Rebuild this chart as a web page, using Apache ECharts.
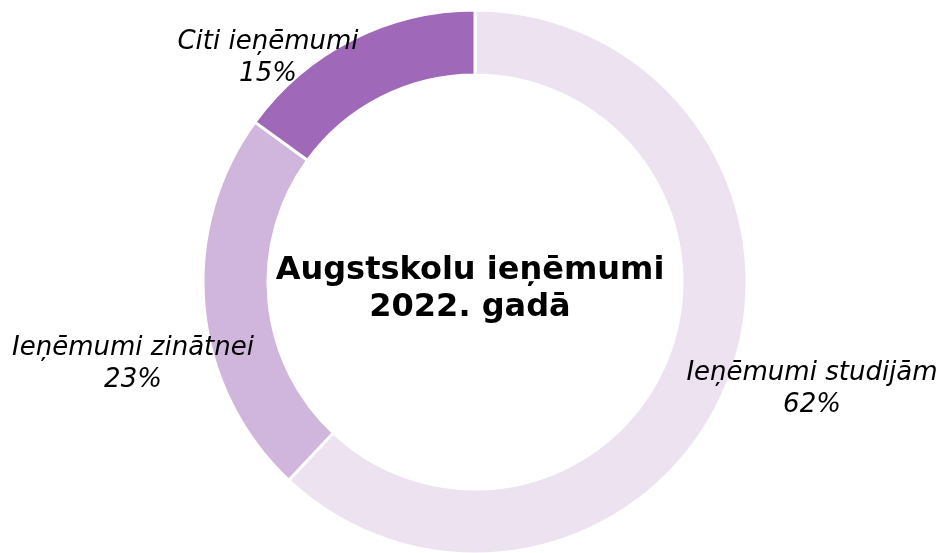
<!DOCTYPE html>
<html>
<head>
<meta charset="utf-8">
<script src="https://cdn.jsdelivr.net/npm/echarts@6/dist/echarts.min.js"></script>
<style>
  html, body { margin: 0; padding: 0; background: #fff; }
  #main { width: 945px; height: 553px; }
</style>
</head>
<body>
<div id="main"></div>
<script>
const categories = ['Ieņēmumi studijām', 'Ieņēmumi zinātnei', 'Citi ieņēmumi'];
const shares = [62, 23, 15];
const colors = ['#ECE2F0', '#D0B5DC', '#A068B8'];
// label anchor points (centre of the two-line label)
const labelPos = [[812, 389], [133, 364], [268, 58]];

const chart = echarts.init(document.getElementById('main'));
const option = {
  backgroundColor: '#ffffff',
  title: {
    text: 'Augstskolu ieņēmumi\n2022. gadā',
    left: 465,
    top: 247,
    textAlign: 'center',
    textStyle: {
      fontFamily: 'DejaVu Sans',
      fontWeight: 'bold',
      fontSize: 32,
      lineHeight: 37,
      color: '#000'
    }
  },
  series: [{
    type: 'pie',
    center: [475, 282],
    radius: [207, 272],
    startAngle: 90,
    clockwise: true,
    avoidLabelOverlap: false,
    itemStyle: { borderColor: '#fff', borderWidth: 3 },
    labelLine: { show: false },
    label: {
      show: true,
      position: 'outside',
      formatter: p => p.name + '\n' + p.value + '%',
      fontFamily: 'DejaVu Sans',
      fontStyle: 'italic',
      fontSize: 26,
      lineHeight: 32,
      color: '#000',
      align: 'center'
    },
    labelLayout: function (params) {
      const pos = labelPos[params.dataIndex];
      return { x: pos[0], y: pos[1], align: 'center', verticalAlign: 'middle' };
    },
    emphasis: { disabled: true },
    data: categories.map((c, i) => ({
      name: c,
      value: shares[i],
      itemStyle: { color: colors[i] }
    }))
  }]
};
chart.setOption(option);
</script>
</body>
</html>
